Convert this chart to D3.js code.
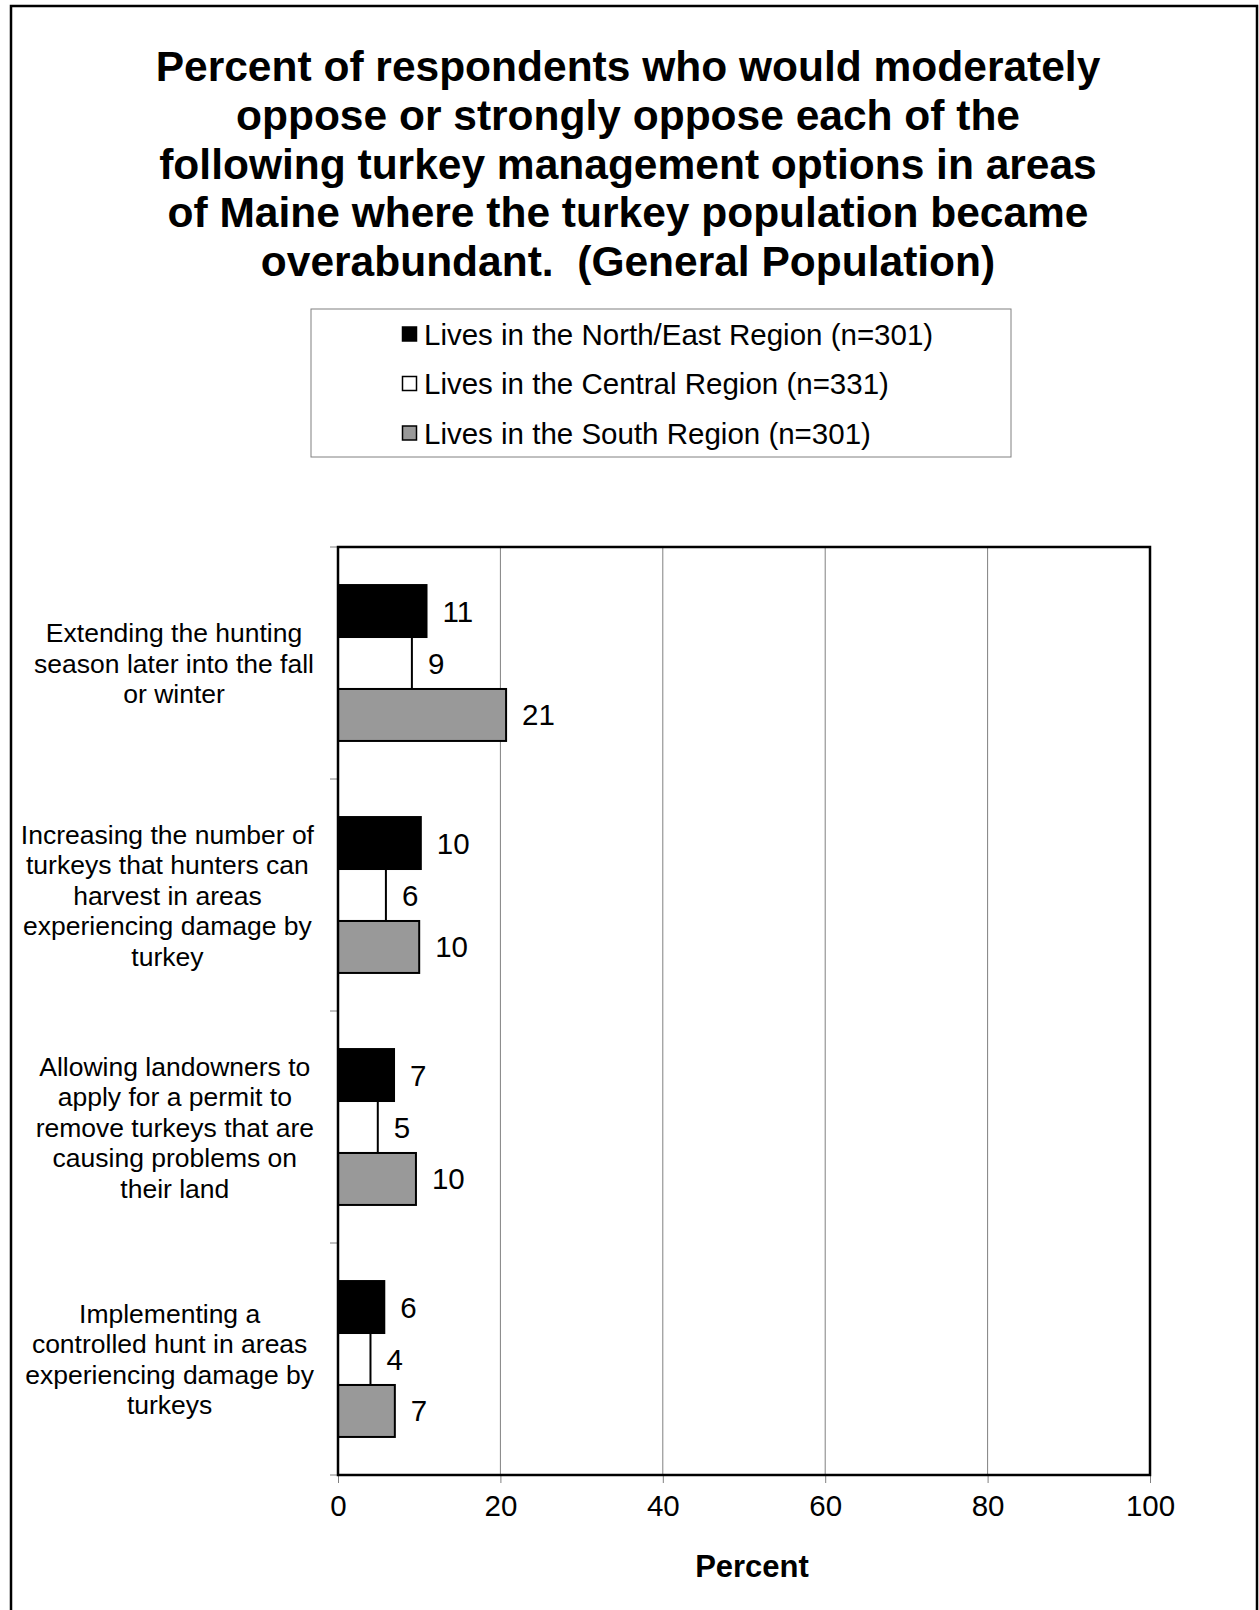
<!DOCTYPE html>
<html>
<head>
<meta charset="utf-8">
<script src="https://cdn.jsdelivr.net/npm/d3@7"></script>
<style>
  html, body { margin: 0; padding: 0; background: #fff; }
  svg { display: block; }
  text { font-family: "Liberation Sans", Arial, Helvetica, sans-serif; fill: #000; white-space: pre; }
</style>
</head>
<body>
<svg id="chart" width="1259" height="1610"></svg>
<script>
// ---------- data ----------
const titleLines = [
  "Percent of respondents who would moderately",
  "oppose or strongly oppose each of the",
  "following turkey management options in areas",
  "of Maine where the turkey population became",
  "overabundant.  (General Population)"
];
const categories = [
  ["Extending the hunting", "season later into the fall", "or winter"],
  ["Increasing the number of", "turkeys that hunters can", "harvest in areas", "experiencing damage by", "turkey"],
  ["Allowing landowners to", "apply for a permit to", "remove turkeys that are", "causing problems on", "their land"],
  ["Implementing a", "controlled hunt in areas", "experiencing damage by", "turkeys"]
];
const seriesNames = [
  "Lives in the North/East Region (n=301)",
  "Lives in the Central Region (n=331)",
  "Lives in the South Region (n=301)"
];
const northEast = [10.9, 10.2, 6.9, 5.7];
const central   = [9.1, 5.9, 4.9, 4.0];
const south     = [20.7, 10.0, 9.6, 7.0];
const xTicks = [0, 20, 40, 60, 80, 100];
const xLabel = "Percent";

// ---------- styles ----------
const fills = ["#000000", "#ffffff", "#999999"];
const seriesValues = [northEast, central, south];

const svg = d3.select("#chart");

// outer frame
svg.append("rect")
  .attr("x", 11).attr("y", 6)
  .attr("width", 1246).attr("height", 1640)
  .attr("fill", "none").attr("stroke", "#000").attr("stroke-width", 2.5);

// title
svg.append("g").selectAll("text")
  .data(titleLines).join("text")
  .attr("x", 628)
  .attr("y", (d, i) => 81 + i * 48.8)
  .attr("text-anchor", "middle")
  .attr("font-size", 42.5)
  .attr("font-weight", "bold")
  .attr("xml:space", "preserve")
  .text(d => d);

// legend
const legend = svg.append("g");
legend.append("rect")
  .attr("x", 311).attr("y", 309)
  .attr("width", 700).attr("height", 148)
  .attr("fill", "#fff").attr("stroke", "#808080").attr("stroke-width", 1);
const legRows = legend.selectAll("g.row")
  .data(seriesNames).join("g")
  .attr("class", "row")
  .attr("transform", (d, i) => `translate(0, ${334 + i * 49.5})`);
legRows.append("rect")
  .attr("x", 402.5).attr("y", -7)
  .attr("width", 14).attr("height", 14)
  .attr("fill", (d, i) => fills[i])
  .attr("stroke", "#000").attr("stroke-width", 1.5);
legRows.append("text")
  .attr("x", 424).attr("y", 10.5)
  .attr("font-size", 29.5)
  .text(d => d);

// plot area
const plot = { left: 338, right: 1150, top: 547, bottom: 1475 };
const x = d3.scaleLinear().domain([0, 100]).range([plot.left, plot.right]);
const y = d3.scaleBand()
  .domain(d3.range(categories.length))
  .range([plot.top, plot.bottom])
  .paddingInner(0.328).paddingOuter(0.164);
const ySub = d3.scaleBand()
  .domain(d3.range(seriesNames.length))
  .range([0, y.bandwidth()])
  .padding(0);

// gridlines
svg.append("g").selectAll("line")
  .data(xTicks.filter(t => t > 0 && t < 100)).join("line")
  .attr("x1", d => x(d)).attr("x2", d => x(d))
  .attr("y1", plot.top).attr("y2", plot.bottom)
  .attr("stroke", "#808080").attr("stroke-width", 1);

// x axis ticks + labels
const xAxis = d3.axisBottom(x).tickValues(xTicks).tickSize(8).tickPadding(12).tickFormat(d3.format("d"));
const gx = svg.append("g").attr("transform", `translate(0, ${plot.bottom})`).call(xAxis);
gx.select(".domain").remove();
gx.selectAll(".tick line").attr("stroke", "#808080").attr("stroke-width", 1);
gx.selectAll(".tick text")
  .attr("font-size", 29.5)
  .attr("font-family", "'Liberation Sans', Arial, sans-serif")
  .attr("fill", "#000")
  .attr("dy", "0.71em");

// y axis ticks at category boundaries
const step = (plot.bottom - plot.top) / categories.length;
svg.append("g").selectAll("line")
  .data(d3.range(categories.length + 1)).join("line")
  .attr("x1", plot.left - 8).attr("x2", plot.left)
  .attr("y1", d => plot.top + d * step).attr("y2", d => plot.top + d * step)
  .attr("stroke", "#808080").attr("stroke-width", 1);

// category labels: each block centred within its own width, right edge near the axis
const labelRight = 314;
const catG = svg.append("g").selectAll("g")
  .data(categories).join("g")
  .attr("transform", (d, i) => `translate(0, ${y(i) + y.bandwidth() / 2})`);
catG.each(function(lines) {
  const n = lines.length;
  const g = d3.select(this);
  const texts = g.selectAll("text")
    .data(lines).join("text")
    .attr("x", 0)
    .attr("y", (d, j) => (j - (n - 1) / 2) * 30.5 + 9.5)
    .attr("text-anchor", "middle")
    .attr("font-size", 26.5)
    .text(d => d);
  let maxW = 0;
  texts.each(function() { maxW = Math.max(maxW, this.getComputedTextLength()); });
  texts.attr("x", labelRight - maxW / 2);
});

// bars
const barData = [];
categories.forEach((c, ci) => {
  seriesValues.forEach((vals, si) => {
    barData.push({ ci, si, v: vals[ci] });
  });
});
const bars = svg.append("g");
bars.selectAll("rect")
  .data(barData).join("rect")
  .attr("x", x(0))
  .attr("y", d => y(d.ci) + ySub(d.si))
  .attr("width", d => x(d.v) - x(0))
  .attr("height", ySub.bandwidth())
  .attr("fill", d => fills[d.si])
  .attr("stroke", "#000").attr("stroke-width", 2);

// value labels
svg.append("g").selectAll("text")
  .data(barData).join("text")
  .attr("x", d => x(d.v) + 16)
  .attr("y", d => y(d.ci) + ySub(d.si) + ySub.bandwidth() / 2 + 10.5)
  .attr("font-size", 29.5)
  .text(d => d3.format(".0f")(d.v));

// plot border
svg.append("rect")
  .attr("x", plot.left).attr("y", plot.top)
  .attr("width", plot.right - plot.left).attr("height", plot.bottom - plot.top)
  .attr("fill", "none").attr("stroke", "#000").attr("stroke-width", 2.5);

// x label
svg.append("text")
  .attr("x", 752).attr("y", 1577)
  .attr("text-anchor", "middle")
  .attr("font-size", 31)
  .attr("font-weight", "bold")
  .text(xLabel);
</script>
</body>
</html>
